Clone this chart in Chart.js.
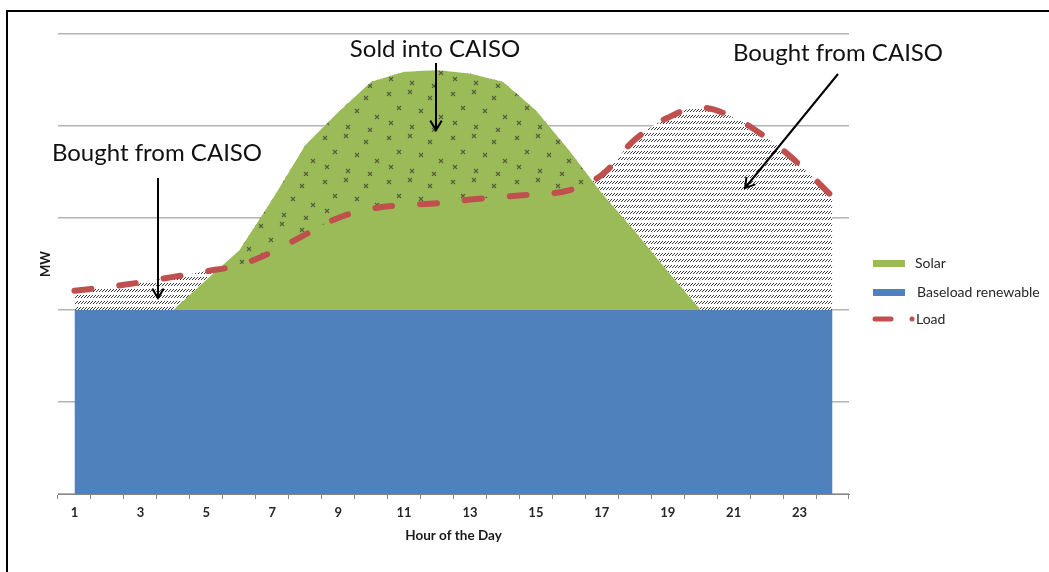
<!DOCTYPE html>
<html>
<head>
<meta charset="utf-8">
<script src="https://cdn.jsdelivr.net/npm/chart.js@4.4.1/dist/chart.umd.min.js"></script>
<style>
  html, body { margin: 0; padding: 0; background: #fff; }
  #wrap { width: 1049px; height: 572px; position: relative; }
</style>
</head>
<body>
<div id="wrap"><canvas id="chart" width="1049" height="572"></canvas></div>
<script>
// hours on the x axis
const hours = [1, 2, 3, 4, 5, 6, 7, 8, 9, 10, 11, 12, 13, 14, 15, 16, 17, 18, 19, 20, 21, 22, 23, 24];
// MW (no scale printed on the original, y runs 0..5)
const baseload = [2, 2, 2, 2, 2, 2, 2, 2, 2, 2, 2, 2, 2, 2, 2, 2, 2, 2, 2, 2, 2, 2, 2, 2];
const solar = [0, 0, 0, 0, 0.33, 0.65, 1.2, 1.79, 2.15, 2.48, 2.59, 2.61, 2.57, 2.48, 2.17, 1.74, 1.27, 0.86, 0.42, 0, 0, 0, 0, 0];
const load = [2.21, 2.25, 2.30, 2.36, 2.42, 2.49, 2.63, 2.82, 3.00, 3.10, 3.14, 3.16, 3.20, 3.23, 3.26, 3.30, 3.47, 3.85, 4.09, 4.20, 4.09, 3.87, 3.58, 3.23];
const seriesNames = ["Solar", "Baseload renewable", "Load"];
const notes = ["Sold into CAISO", "Bought from CAISO", "Bought from CAISO"];

const BLUE = "#4F81BD", GREEN = "#9BBB59", RED = "#C0504D";
const FONT = "Lato, 'Open Sans', sans-serif";

/* ---------- fill patterns ---------- */
function hatchPattern() {
  const c = document.createElement("canvas");
  c.width = 3; c.height = 6;
  const g = c.getContext("2d");
  g.fillStyle = "#fff";
  g.fillRect(0, 0, 3, 6);
  g.fillStyle = "#3c3c3c";
  g.fillRect(0, 3, 1, 1);
  g.fillRect(1, 2, 1, 1);
  g.fillRect(2, 1, 1, 1);
  return g.createPattern(c, "repeat");
}

function crossPattern() {
  const c = document.createElement("canvas");
  c.width = 64; c.height = 44;
  const g = c.getContext("2d");
  g.strokeStyle = "rgba(72,84,60,0.9)";
  g.lineWidth = 1.1;
  // scattered little x marks
  const spots = [[5, 6], [26, 4], [46, 10], [15, 20], [37, 23], [57, 29], [7, 35], [28, 39], [50, 42]];
  spots.forEach(([x, y]) => {
    g.beginPath();
    g.moveTo(x - 2, y - 2); g.lineTo(x + 2, y + 2);
    g.moveTo(x + 2, y - 2); g.lineTo(x - 2, y + 2);
    g.stroke();
  });
  return g.createPattern(c, "repeat");
}

/* ---------- helpers for the overlay ---------- */
function fitFont(ctx, text, width, maxSize, weight = "") {
  let size = maxSize;
  ctx.font = `${weight} ${size}px ${FONT}`;
  const w = ctx.measureText(text).width;
  if (w > 0) size = Math.min(maxSize, size * width / w);
  return `${weight} ${size.toFixed(2)}px ${FONT}`;
}

function arrow(ctx, x1, y1, x2, y2) {
  const a = Math.atan2(y2 - y1, x2 - x1);
  const len = 11, spread = 0.55;
  ctx.beginPath();
  ctx.moveTo(x1, y1);
  ctx.lineTo(x2, y2);
  ctx.moveTo(x2 - len * Math.cos(a - spread), y2 - len * Math.sin(a - spread));
  ctx.lineTo(x2, y2);
  ctx.lineTo(x2 - len * Math.cos(a + spread), y2 - len * Math.sin(a + spread));
  ctx.stroke();
}

const overlay = {
  id: "overlay",
  afterDraw(chart) {
    const ctx = chart.ctx;
    ctx.save();

    // page frame
    ctx.strokeStyle = "#000";
    ctx.lineWidth = 2;
    ctx.beginPath();
    ctx.moveTo(7, 572);
    ctx.lineTo(7, 11);
    ctx.lineTo(1049, 11);
    ctx.stroke();

    // callouts
    ctx.fillStyle = "#111";
    ctx.textBaseline = "alphabetic";
    ctx.textAlign = "center";
    ctx.font = fitFont(ctx, notes[0], 174, 24);
    ctx.fillText(notes[0], 435, 57);
    ctx.font = fitFont(ctx, notes[1], 215, 24);
    ctx.fillText(notes[1], 157, 161);
    ctx.font = fitFont(ctx, notes[2], 214, 24);
    ctx.fillText(notes[2], 838, 61);

    ctx.strokeStyle = "#000";
    ctx.lineWidth = 2;
    arrow(ctx, 436, 63, 436, 130);
    arrow(ctx, 158, 178, 158, 298);
    arrow(ctx, 838, 74, 745, 188);

    // legend
    ctx.textAlign = "left";
    ctx.textBaseline = "middle";
    ctx.fillStyle = GREEN;
    ctx.fillRect(873, 260, 32, 7);
    ctx.fillStyle = BLUE;
    ctx.fillRect(873, 289, 32, 7);
    ctx.strokeStyle = RED;
    ctx.lineWidth = 5;
    ctx.lineCap = "round";
    ctx.beginPath();
    ctx.moveTo(875, 319);
    ctx.lineTo(891, 319);
    ctx.stroke();
    ctx.fillStyle = RED;
    ctx.beginPath();
    ctx.arc(912, 319, 2.5, 0, Math.PI * 2);
    ctx.fill();

    ctx.fillStyle = "#262626";
    ctx.font = fitFont(ctx, seriesNames[1], 123, 14);
    ctx.fillText(seriesNames[0], 915, 263);
    ctx.fillText(seriesNames[1], 917, 292);
    ctx.fillText(seriesNames[2], 916, 319);
    ctx.restore();
  }
};

/* ---------- chart ---------- */
const chart = new Chart(document.getElementById("chart"), {
  type: "line",
  data: {
    labels: hours,
    datasets: [
      {
        label: seriesNames[2],
        data: load,
        stack: "load",
        borderColor: RED,
        borderWidth: 6,
        borderDash: [17, 28],
        borderCapStyle: "round",
        tension: 0.4,
        pointRadius: 0,
        fill: { target: "+2", above: hatchPattern(), below: crossPattern() }
      },
      {
        label: seriesNames[1],
        data: baseload,
        stack: "supply",
        backgroundColor: BLUE,
        borderWidth: 0,
        pointRadius: 0,
        fill: "origin"
      },
      {
        label: seriesNames[0],
        data: solar,
        stack: "supply",
        backgroundColor: GREEN,
        borderWidth: 0,
        pointRadius: 0,
        fill: "-1"
      }
    ]
  },
  options: {
    responsive: false,
    animation: false,
    events: [],
    layout: { padding: { left: 32, right: 200, top: 34, bottom: 24 } },
    plugins: {
      legend: { display: false },
      tooltip: { enabled: false }
    },
    scales: {
      x: {
        offset: true,
        afterFit(scale) { scale.height = 54; },
        grid: { offset: true, drawOnChartArea: false, color: "#868686", tickLength: 5 },
        border: { color: "#868686", width: 1 },
        ticks: {
          autoSkip: false,
          maxRotation: 0,
          padding: 6,
          color: "#262626",
          font: { family: FONT, size: 13, weight: "bold" },
          callback(v, i) { return i % 2 === 0 ? this.getLabelForValue(v) : ""; }
        },
        title: {
          display: true,
          text: "Hour of the Day",
          color: "#1a1a1a",
          font: { family: FONT, size: 13.5, weight: "bold" },
          padding: { top: 0, bottom: 4 }
        }
      },
      y: {
        stacked: true,
        min: 0,
        max: 5,
        afterFit(scale) { scale.width = 26; },
        ticks: { display: false, stepSize: 1 },
        grid: { color: "#B3B3B3", lineWidth: 1.5, drawTicks: false },
        border: { display: false },
        title: {
          display: true,
          text: "MW",
          color: "#1a1a1a",
          font: { family: FONT, size: 13, weight: "bold" },
          padding: { top: 6, bottom: 4 }
        }
      }
    }
  },
  plugins: [overlay]
});
</script>
</body>
</html>
